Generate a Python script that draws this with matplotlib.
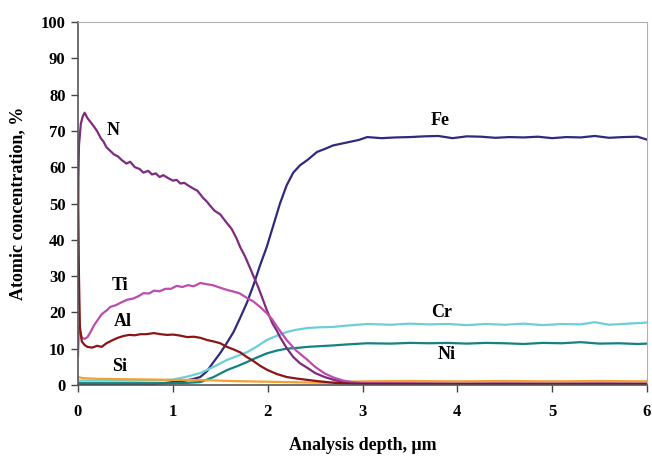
import matplotlib
matplotlib.use("Agg")
import matplotlib.pyplot as plt

# ---------------- data ----------------
n_x = [0, 0.01, 0.03, 0.05, 0.07, 0.1, 0.13, 0.16, 0.2, 0.24, 0.27, 0.3, 0.34, 0.38, 0.42, 0.46, 0.51, 0.55,
       0.6, 0.65, 0.69, 0.74, 0.78, 0.82, 0.86, 0.9, 0.95, 1.0, 1.04, 1.08, 1.12, 1.16, 1.21, 1.26, 1.32, 1.36,
       1.39, 1.44, 1.5, 1.57, 1.62, 1.67, 1.71, 1.76, 1.81, 1.85, 1.9, 1.95, 1.99, 2.05, 2.1, 2.13, 2.2, 2.27,
       2.34, 2.42, 2.5, 2.6, 2.7, 2.8, 2.9, 2.97, 3.1, 3.5, 4, 4.5, 5, 5.5, 6]
n_y = [50, 66, 72, 74, 75, 73.5, 72.5, 71.5, 70, 68, 67, 65.5, 64.5, 63.5, 63, 62, 61, 61.5,
       60, 59.5, 58.5, 59, 58, 58.3, 57.3, 57.8, 57, 56.3, 56.5, 55.5, 55.7, 55, 54.2, 53.5, 51.5, 50.5,
       49.5, 48, 47, 44.6, 43, 40.5, 38, 35.5, 32.5, 30, 27, 23.5, 20.7, 17, 14.8, 13.2, 10.2, 7.7,
       6, 4.7, 3.3, 2.2, 1.4, 0.9, 0.6, 0.5, 0.4, 0.4, 0.3, 0.4, 0.3, 0.4, 0.3]

ti_x = [0, 0.01, 0.02, 0.04, 0.07, 0.1, 0.13, 0.17, 0.21, 0.25, 0.3, 0.34, 0.4, 0.46, 0.52, 0.58, 0.64, 0.69,
        0.75, 0.8, 0.86, 0.92, 0.98, 1.04, 1.1, 1.16, 1.22, 1.29, 1.35, 1.42, 1.5, 1.57, 1.63, 1.7, 1.78, 1.85,
        1.92, 1.99, 2.05, 2.1, 2.15, 2.2, 2.3, 2.42, 2.5, 2.6, 2.7, 2.8, 2.9, 3.0, 3.5, 4, 5, 6]
ti_y = [8, 16, 15, 13, 12.7, 13.2, 14.5, 16.5, 18, 19.5, 20.5, 21.5, 22, 22.8, 23.5, 23.8, 24.5, 25.3,
        25.2, 26, 25.8, 26.5, 26.5, 27.3, 27, 27.5, 27.2, 28.1, 27.8, 27.5, 26.8, 26.2, 25.8, 25.3, 24, 23,
        21.5, 19.8, 18, 16, 14.2, 12.4, 9.5, 6.9, 5, 3.2, 2, 1.2, 0.8, 0.5, 0.4, 0.3, 0.3, 0.3]

al_x = [0, 0.01, 0.02, 0.04, 0.07, 0.1, 0.15, 0.2, 0.25, 0.3, 0.36, 0.42, 0.48, 0.54, 0.6, 0.66, 0.72, 0.8,
        0.87, 0.94, 1.0, 1.08, 1.15, 1.22, 1.29, 1.36, 1.43, 1.5, 1.57, 1.64, 1.71, 1.78, 1.85, 1.92, 2.0,
        2.1, 2.2, 2.3, 2.42, 2.55, 2.7, 2.85, 3.0, 3.5, 4, 5, 6]
al_y = [56, 30, 16, 12, 11, 10.5, 10.3, 10.8, 10.5, 11.5, 12.3, 13, 13.5, 13.8, 13.7, 14, 14, 14.3,
        14, 13.8, 13.9, 13.6, 13.2, 13.3, 13, 12.4, 12, 11.5, 10.5, 9.8, 9, 7.7, 6.6, 5.3, 4.1,
        3, 2.2, 1.8, 1.4, 1, 0.6, 0.4, 0.3, 0.3, 0.3, 0.3, 0.3]

si_x = [0, 0.05, 0.2, 0.5, 0.8, 1.0, 1.2, 1.4, 1.6, 1.8, 2.0, 2.2, 2.4, 2.6, 2.8, 3.0, 3.5, 4, 4.5, 5, 5.5, 6]
si_y = [2.2, 1.9, 1.7, 1.6, 1.5, 1.4, 1.4, 1.3, 1.1, 1.0, 0.9, 0.8, 0.7, 0.6, 0.8, 1.0, 1.1, 1.0, 1.1, 1.0, 1.1, 1.0]

fe_x = [0, 0.5, 0.8, 0.9, 1.0, 1.1, 1.19, 1.29, 1.36, 1.42, 1.5, 1.57, 1.64, 1.71, 1.78, 1.85, 1.92, 1.99,
        2.06, 2.13, 2.2, 2.27, 2.34, 2.42, 2.52, 2.6, 2.69, 2.78, 2.87, 2.96, 3.05, 3.2, 3.35, 3.5, 3.65,
        3.8, 3.95, 4.1, 4.25, 4.4, 4.55, 4.7, 4.85, 5.0, 5.15, 5.3, 5.45, 5.6, 5.75, 5.9, 6.0]
fe_y = [0, 0.1, 0.3, 0.5, 0.8, 1.1, 1.5, 2.2, 3.8, 6, 8.8, 11.6, 14.6, 18.5, 22.6, 27.5, 33, 38,
        44, 50, 55, 58.5, 60.5, 62, 64.2, 65, 66, 66.5, 67, 67.5, 68.3, 68, 68.2, 68.3, 68.5,
        68.6, 68.0, 68.5, 68.4, 68.1, 68.3, 68.2, 68.4, 68.0, 68.3, 68.2, 68.6, 68.1, 68.3, 68.4, 67.6]

cr_x = [0, 0.3, 0.6, 0.9, 1.0, 1.15, 1.29, 1.43, 1.57, 1.68, 1.78, 1.88, 1.99, 2.1, 2.2, 2.3, 2.42, 2.55,
        2.69, 2.85, 3.05, 3.3, 3.5, 3.7, 3.9, 4.1, 4.3, 4.5, 4.7, 4.9, 5.1, 5.3, 5.45, 5.6, 5.8, 6.0]
cr_y = [1.2, 1.2, 1.2, 1.3, 1.5, 2.3, 3.3, 5, 6.9, 8, 9, 10.5, 12.4, 13.6, 14.6, 15.2, 15.7, 15.9,
        16.0, 16.4, 16.8, 16.6, 16.9, 16.7, 16.8, 16.5, 16.8, 16.6, 16.9, 16.5, 16.8, 16.7, 17.3, 16.6, 16.9, 17.2]

ni_x = [0, 0.5, 1.0, 1.15, 1.29, 1.43, 1.57, 1.68, 1.78, 1.88, 1.99, 2.1, 2.2, 2.3, 2.42, 2.55, 2.69, 2.85,
        3.05, 3.3, 3.5, 3.7, 3.9, 4.1, 4.3, 4.5, 4.7, 4.9, 5.1, 5.3, 5.5, 5.7, 5.9, 6.0]
ni_y = [0.5, 0.5, 0.5, 0.6, 0.8, 2.2, 4.1, 5.2, 6.3, 7.5, 8.7, 9.5, 10, 10.2, 10.5, 10.7, 10.9, 11.2,
        11.5, 11.4, 11.6, 11.5, 11.6, 11.4, 11.6, 11.5, 11.3, 11.6, 11.5, 11.8, 11.4, 11.5, 11.3, 11.4]

labels = ["N", "Fe", "Ti", "Al", "Si", "Cr", "Ni"]
label_x = [0.37, 3.82, 0.44, 0.47, 0.44, 3.83, 3.89]
label_y = [70.2, 73.0, 27.5, 17.6, 5.2, 20.1, 8.5]

x_ticks = [0, 1, 2, 3, 4, 5, 6]
y_ticks = [0, 10, 20, 30, 40, 50, 60, 70, 80, 90, 100]

# ---------------- plot ----------------
plt.rcParams['font.family'] = ['Liberation Serif', 'DejaVu Serif']
fig = plt.figure(figsize=(6.52, 4.58), dpi=100)
ax = fig.add_axes([78 / 652, 73 / 458, 569 / 652, 363 / 458])

lw = 1.6
ax.plot(fe_x, fe_y, color='#2E2A7E', lw=lw)
ax.plot(cr_x, cr_y, color='#6CCFD8', lw=lw)
ax.plot(ni_x, ni_y, color='#138282', lw=lw)
ax.plot(si_x, si_y, color='#F5A02C', lw=lw)
ax.plot(n_x, n_y, color='#7E2A80', lw=lw)
ax.plot(ti_x, ti_y, color='#BC4DAE', lw=lw)
ax.plot(al_x, al_y, color='#8B1515', lw=lw)

for t, lx, ly in zip(labels, label_x, label_y):
    ax.text(lx, ly, t, fontsize=13, fontweight='bold', ha='center', va='center')

ax.set_xlim(0, 6)
ax.set_ylim(0, 100)
ax.set_xticks(x_ticks)
ax.set_yticks(y_ticks)
ax.tick_params(axis='both', labelsize=12, direction='out', length=5, width=1, color='#444444')
ax.tick_params(axis='x', pad=9)
ax.tick_params(axis='y', pad=4)
for lab in ax.get_xticklabels() + ax.get_yticklabels():
    lab.set_fontweight('bold')

ax.spines['left'].set_color('#555555')
ax.spines['bottom'].set_color('#555555')
ax.spines['left'].set_linewidth(1.2)
ax.spines['bottom'].set_linewidth(1.2)
ax.spines['top'].set_color('#b0b0b0')
ax.spines['right'].set_color('#b0b0b0')

ax.set_xlabel('Analysis depth, μm', fontsize=13, fontweight='bold', va='center')
ax.set_ylabel('Atomic concentration, %', fontsize=13, fontweight='bold', va='center')
ax.xaxis.set_label_coords(0.5, (385 - 445) / 363)
ax.yaxis.set_label_coords((18 - 78) / 569, 0.5)

fig.savefig('out.png', dpi=100)
